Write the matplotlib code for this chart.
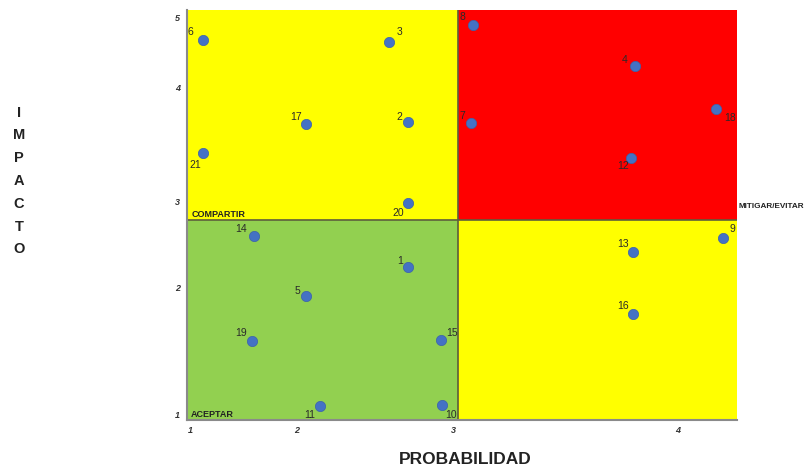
import numpy as np
import matplotlib
matplotlib.use("Agg")
import matplotlib.pyplot as plt
from matplotlib.patches import Rectangle

# ---------------- data ----------------
ids = ["6", "3", "17", "2", "21", "20", "8", "4", "7", "18", "12",
       "13", "9", "16", "14", "1", "5", "19", "15", "11", "10"]
probabilidad = [1.12, 2.59, 2.06, 2.71, 1.12, 2.71, 3.09, 3.81, 3.08, 4.17, 3.79,
                3.80, 4.20, 3.80, 1.60, 2.71, 2.06, 1.58, 2.92, 2.15, 2.93]
impacto = [4.69, 4.66, 3.68, 3.70, 3.43, 2.99, 4.90, 4.31, 3.69, 3.82, 3.39,
           2.42, 2.58, 1.79, 2.60, 2.24, 1.94, 1.58, 1.59, 1.06, 1.07]
x_ticks = [1, 2, 3, 4]
y_ticks = [1, 2, 3, 4, 5]
x_split = 3.02
y_split = 2.79
quadrant_names = ["COMPARTIR", "ACEPTAR", "MITIGAR/EVITAR"]

# ---------------- styles ----------------
# label offsets in pixels (dx right, dy up), one per point
label_off = [(-12, 8), (10, 10), (-10, 7), (-8, 5), (-8, -12), (-10, -10),
             (-11, 8), (-11, 6), (-9, 7), (14, -9), (-8, -8),
             (-10, 8), (9, 9), (-10, 8), (-13, 7), (-8, 6), (-9, 5),
             (-11, 8), (11, 7), (-11, -9), (9, -10)]

# non-uniform axis scales (tick spacing in original chart is uneven)
x_knots = np.array([1, 2, 3, 4], float)
x_pos = np.array([0, 107, 263, 488], float)
y_knots = np.array([1, 2, 3, 4, 5], float)
y_pos = np.array([0, 126, 212, 326, 396], float)


def pw(kn, ps):
    def fwd(v):
        v = np.asarray(v, float)
        out = np.interp(v, kn, ps)
        s0 = (ps[1] - ps[0]) / (kn[1] - kn[0])
        s1 = (ps[-1] - ps[-2]) / (kn[-1] - kn[-2])
        out = np.where(v < kn[0], ps[0] + (v - kn[0]) * s0, out)
        out = np.where(v > kn[-1], ps[-1] + (v - kn[-1]) * s1, out)
        return out

    def inv(p):
        p = np.asarray(p, float)
        out = np.interp(p, ps, kn)
        s0 = (kn[1] - kn[0]) / (ps[1] - ps[0])
        s1 = (kn[-1] - kn[-2]) / (ps[-1] - ps[-2])
        out = np.where(p < ps[0], kn[0] + (p - ps[0]) * s0, out)
        out = np.where(p > ps[-1], kn[-1] + (p - ps[-1]) * s1, out)
        return out
    return fwd, inv


plt.rcParams['font.family'] = ['Liberation Sans', 'DejaVu Sans']

fig = plt.figure(figsize=(8.05, 4.70), dpi=100)
ax = fig.add_axes([187 / 805, 1 - 420 / 470, 550 / 805, 410 / 470])
ax.set_xscale('function', functions=pw(x_knots, x_pos))
ax.set_yscale('function', functions=pw(y_knots, y_pos))

xfwd, xinv = pw(x_knots, x_pos)
yfwd, yinv = pw(y_knots, y_pos)
xmin, xmax = float(xinv(-3)), float(xinv(547))
ymin, ymax = float(yinv(-6)), float(yinv(404))
ax.set_xlim(xmin, xmax)
ax.set_ylim(ymin, ymax)

yellow = "#FFFF00"
red = "#FF0000"
green = "#92D050"
ax.add_patch(Rectangle((xmin, ymin), x_split - xmin, y_split - ymin, facecolor=green, edgecolor='none', zorder=0))
ax.add_patch(Rectangle((xmin, y_split), x_split - xmin, ymax - y_split, facecolor=yellow, edgecolor='none', zorder=0))
ax.add_patch(Rectangle((x_split, y_split), xmax - x_split, ymax - y_split, facecolor=red, edgecolor='none', zorder=0))
ax.add_patch(Rectangle((x_split, ymin), xmax - x_split, y_split - ymin, facecolor=yellow, edgecolor='none', zorder=0))
ax.axvline(x_split, color="#5e5e3c", lw=1.2, zorder=1)
ax.axhline(y_split, color="#5e5e3c", lw=1.2, zorder=1)

ax.scatter(probabilidad, impacto, s=55, color="#4472C4", edgecolors="#3a62aa", linewidths=0.5, zorder=3)
for lab, xv, yv, (dx, dy) in zip(ids, probabilidad, impacto, label_off):
    ax.annotate(lab, (xv, yv), xytext=(dx * 0.72, dy * 0.72), textcoords='offset points',
                ha='center', va='center', fontsize=7.5, color='#2a2a2a', zorder=4)

# quadrant names
ax.annotate(quadrant_names[0], (xmin, y_split), xytext=(3, 1), textcoords='offset points',
            fontsize=6.5, fontweight='bold', color='#222222', ha='left', va='bottom')
ax.annotate(quadrant_names[1], (xmin, ymin), xytext=(3, 1), textcoords='offset points',
            fontsize=6.5, fontweight='bold', color='#222222', ha='left', va='bottom')
ax.annotate(quadrant_names[2], (xmax, y_split), xytext=(1.2, 10), textcoords='offset points',
            fontsize=5.9, fontweight='bold', color='#222222', ha='left', va='center',
            annotation_clip=False)

ax.set_xticks(x_ticks)
ax.set_xticklabels([str(t) for t in x_ticks], fontsize=6.5, fontweight='bold', style='italic', color='#333333')
ax.set_yticks(y_ticks)
ax.set_yticklabels([str(t) for t in y_ticks], fontsize=6.5, fontweight='bold', style='italic', color='#333333')
ax.tick_params(axis='both', length=0, pad=4)
ax.tick_params(axis='y', pad=5)

for s in ['top', 'right']:
    ax.spines[s].set_visible(False)
for s in ['bottom', 'left']:
    ax.spines[s].set_color('#8a8a8a')
    ax.spines[s].set_linewidth(1.5)

fig.text(465 / 805, 1 - 460 / 470, "PROBABILIDAD", ha='center', va='center', fontsize=12.5,
         fontweight='bold', color='#222222')
fig.text(19 / 805, 1 - 181 / 470, "\n".join("IMPACTO"), ha='center', va='center', fontsize=10.5,
         fontweight='bold', color='#222222', linespacing=1.8)

fig.savefig("out.png", dpi=100)
